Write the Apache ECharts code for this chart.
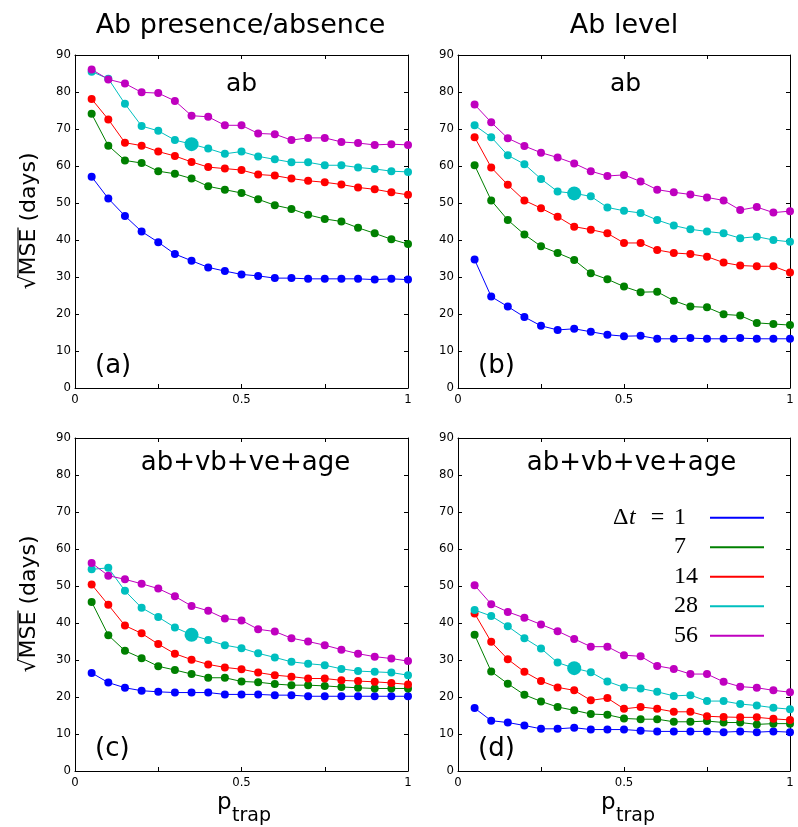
<!DOCTYPE html>
<html>
<head>
<meta charset="utf-8">
<script src="https://cdn.jsdelivr.net/npm/echarts@6/dist/echarts.min.js"></script>
<style>
html,body{margin:0;padding:0;background:#fff;}
#chart{width:798px;height:827px;}
</style>
</head>
<body>
<div id="chart"></div>
<script>
// ---- data ----
const pTrap = [0.05,0.10,0.15,0.20,0.25,0.30,0.35,0.40,0.45,0.50,0.55,0.60,0.65,0.70,0.75,0.80,0.85,0.90,0.95,1.00];
const dtNames = ['1','7','14','28','56'];
const xTickLabels = ['0','0.5','1'];
const yTickLabels = ['0','10','20','30','40','50','60','70','80','90'];
const columnTitles = ['Ab presence/absence','Ab level'];
const panelTitles = ['ab','ab','ab+vb+ve+age','ab+vb+ve+age'];
const panelLetters = ['(a)','(b)','(c)','(d)'];
const highlightIndex = 6; // p = 0.35, large cyan point

const a_dt1  = [57.1,51.2,46.5,42.3,39.4,36.2,34.4,32.6,31.6,30.7,30.3,29.7,29.7,29.5,29.5,29.5,29.5,29.3,29.5,29.3];
const a_dt7  = [74.1,65.5,61.5,60.8,58.6,57.9,56.6,54.5,53.6,52.7,51.0,49.4,48.4,46.8,45.7,45.0,43.3,41.8,40.2,38.9];
const a_dt14 = [78.1,72.6,66.3,65.5,63.9,62.7,61.1,59.7,59.3,58.9,57.7,57.4,56.6,56.0,55.6,55.0,54.2,53.7,52.9,52.2];
const a_dt28 = [85.5,83.6,76.8,70.8,69.5,67.0,65.9,64.7,63.3,63.9,62.6,61.8,61.0,61.0,60.2,60.2,59.6,59.2,58.6,58.4];
const a_dt56 = [86.1,83.4,82.3,79.9,79.7,77.6,73.6,73.3,71.0,71.0,68.8,68.6,67.0,67.6,67.6,66.5,66.2,65.7,65.9,65.7];

const b_dt1  = [34.7,24.7,22.0,19.2,16.8,15.7,16.0,15.2,14.4,14.0,14.1,13.3,13.3,13.5,13.3,13.3,13.5,13.3,13.3,13.3];
const b_dt7  = [60.2,50.7,45.4,41.5,38.3,36.5,34.6,31.0,29.4,27.4,25.9,26.0,23.6,22.0,21.8,19.9,19.6,17.6,17.3,17.0];
const b_dt14 = [67.8,59.6,54.9,50.7,48.6,46.3,43.6,42.8,41.8,39.2,39.2,37.3,36.5,36.2,35.5,33.9,33.1,32.9,32.9,31.2];
const b_dt28 = [71.0,67.8,62.9,60.5,56.5,53.1,52.6,51.8,48.8,47.9,47.3,45.4,43.9,42.9,42.3,41.8,40.5,40.9,40.0,39.5];
const b_dt56 = [76.6,71.8,67.5,65.4,63.6,62.3,60.7,58.6,57.3,57.6,55.8,53.6,52.9,52.3,51.5,50.7,48.1,48.9,47.4,47.8];

const c_dt1  = [26.5,23.9,22.5,21.7,21.4,21.2,21.2,21.2,20.7,20.7,20.7,20.5,20.5,20.2,20.2,20.2,20.2,20.2,20.2,20.2];
const c_dt7  = [45.7,36.7,32.5,30.5,28.3,27.3,26.2,25.2,25.2,24.2,24.0,23.5,23.2,23.2,23.0,22.7,22.5,22.3,22.3,22.3];
const c_dt14 = [50.4,44.9,39.3,37.2,34.3,31.7,30.1,28.8,28.0,27.5,26.6,25.9,25.5,25.0,25.0,24.5,24.3,24.1,23.8,23.4];
const c_dt28 = [54.5,54.9,48.7,44.1,41.6,38.8,36.8,35.4,34.0,33.2,31.8,30.7,29.5,29.0,28.6,27.6,27.0,26.8,26.6,25.9];
const c_dt56 = [56.2,52.8,51.8,50.6,49.3,47.2,44.6,43.3,41.2,40.7,38.3,37.7,35.9,35.0,34.0,32.8,31.7,30.9,30.4,29.7];

const d_dt1  = [17.0,13.6,13.1,12.3,11.4,11.4,11.7,11.2,11.2,11.2,10.9,10.7,10.7,10.7,10.7,10.5,10.7,10.5,10.7,10.5];
const d_dt7  = [36.8,26.9,23.6,20.6,18.8,17.3,16.4,15.4,15.2,14.2,14.0,14.0,13.3,13.3,13.5,13.1,13.1,12.6,12.8,12.8];
const d_dt14 = [42.6,34.9,30.2,26.8,24.3,22.6,21.8,19.1,19.7,16.8,17.3,16.8,16.0,16.0,14.8,14.6,14.5,14.5,14.1,13.8];
const d_dt28 = [43.5,41.9,39.1,35.9,33.1,29.3,27.8,26.7,24.2,22.6,22.3,21.4,20.3,20.5,18.9,18.9,18.1,17.7,17.1,16.7];
const d_dt56 = [50.2,45.1,43.0,41.4,39.6,37.8,35.7,33.6,33.6,31.3,31.0,28.4,27.6,26.2,26.2,24.1,22.8,22.5,21.8,21.3];

const panels = [
  [a_dt1,a_dt7,a_dt14,a_dt28,a_dt56],
  [b_dt1,b_dt7,b_dt14,b_dt28,b_dt56],
  [c_dt1,c_dt7,c_dt14,c_dt28,c_dt56],
  [d_dt1,d_dt7,d_dt14,d_dt28,d_dt56]
];

// ---- styling / layout ----
const colors = ['#0000ff','#008000','#ff0000','#00bfbf','#bf00bf'];
const grids = [
  {left:75, top:55, width:333, height:333},
  {left:458, top:55, width:332, height:333},
  {left:75, top:438, width:333, height:333},
  {left:458, top:438, width:332, height:333}
];
const tickFont = "'Liberation Sans Narrow','DejaVu Sans Condensed','Liberation Sans',sans-serif";
const sansFont = "'DejaVu Sans',sans-serif";
const serifFont = "'Liberation Serif','DejaVu Serif',serif";

const xAxes = [], yAxes = [], series = [];
grids.forEach((g, gi) => {
  const common = {gridIndex: gi, type:'value', min:0, axisLine:{show:true, onZero:false, lineStyle:{color:'#000', width:1}},
    axisTick:{show:true, inside:true, length:4, lineStyle:{color:'#000'}}, splitLine:{show:false}};
  xAxes.push(Object.assign({}, common, {position:'bottom', max:1, interval:0.25,
    axisLabel:{show:true, color:'#000', fontFamily:tickFont, fontSize:13, margin:5,
      formatter: v => { const s = String(+v.toFixed(2)); return xTickLabels.indexOf(s) >= 0 ? s : ''; }}}));
  xAxes.push(Object.assign({}, common, {position:'top', max:1, interval:0.25, axisLabel:{show:false}}));
  yAxes.push(Object.assign({}, common, {position:'left', max:90, interval:10,
    axisLabel:{show:true, color:'#000', fontFamily:tickFont, fontSize:13, margin:4,
      formatter: v => yTickLabels[Math.round(v/10)]}}));
  yAxes.push(Object.assign({}, common, {position:'right', max:90, interval:10, axisLabel:{show:false}}));

  panels[gi].forEach((vals, si) => {
    series.push({
      name: dtNames[si], type:'line', xAxisIndex: 2*gi, yAxisIndex: 2*gi,
      symbol:'circle', symbolSize:8, showSymbol:true,
      lineStyle:{width:1, color:colors[si]}, itemStyle:{color:colors[si]},
      emphasis:{disabled:true},
      data: vals.map((v, i) => (si === 3 && i === highlightIndex) ? {value:[pTrap[i], v], symbolSize:14} : [pTrap[i], v])
    });
  });
});

// measure text
const ctx = document.createElement('canvas').getContext('2d');
const ylFont = 22;
ctx.font = ylFont + "px 'DejaVu Sans'";
const wRad = ctx.measureText('√').width;
const wMSE = ctx.measureText('MSE').width;
const wAll = ctx.measureText('√MSE (days)').width;
ctx.font = "24px 'Liberation Serif'";
const numCol = 31;
const rightPad = n => Math.max(1, numCol - ctx.measureText(n).width);

function yLabel(cx, cy) {
  const x0 = -wAll/2;
  return {
    type:'group', x:cx, y:cy, rotation:Math.PI/2,
    children:[
      {type:'text', x:x0, y:0, style:{text:'√MSE (days)', font: ylFont + "px 'DejaVu Sans'", fill:'#000', align:'left', verticalAlign:'middle'}},
      {type:'line', shape:{x1:x0 + wRad - 1, y1:-11, x2:x0 + wRad + wMSE + 1, y2:-11}, style:{stroke:'#000', lineWidth:1.2}}
    ]
  };
}
function txt(x, y, s, size, family, align) {
  return {type:'text', x:x, y:y, style:{text:s, font: size + 'px ' + family, fill:'#000', align:align || 'center', verticalAlign:'middle'}};
}

const graphic = [
  txt(240.5, 26, columnTitles[0], 27, sansFont),
  txt(624, 26, columnTitles[1], 27, sansFont),
  txt(241.5, 84, panelTitles[0], 25, sansFont),
  txt(625.5, 84, panelTitles[1], 25, sansFont),
  txt(245.5, 463, panelTitles[2], 26, sansFont),
  txt(631.5, 463, panelTitles[3], 26, sansFont),
  txt(95, 366, panelLetters[0], 26, sansFont, 'left'),
  txt(478, 366, panelLetters[1], 26, sansFont, 'left'),
  txt(95, 749, panelLetters[2], 26, sansFont, 'left'),
  txt(478, 749, panelLetters[3], 26, sansFont, 'left'),
  yLabel(29, 221),
  yLabel(29, 604),
  // x labels p_trap
  txt(217, 803, 'p', 23, sansFont, 'left'),
  txt(232, 816, 'trap', 19, sansFont, 'left'),
  txt(601, 803, 'p', 23, sansFont, 'left'),
  txt(616, 816, 'trap', 19, sansFont, 'left')
];

const chart = echarts.init(document.getElementById('chart'), null, {renderer:'canvas'});
chart.setOption({
  animation:false,
  backgroundColor:'#fff',
  grid: grids,
  xAxis: xAxes,
  yAxis: yAxes,
  series: series,
  legend: {
    data: dtNames, orient:'vertical', left:613, top:505.7, padding:0,
    align:'right', icon:'rect', itemWidth:54, itemHeight:2, itemGap:5.5,
    selectedMode:false,
    formatter: n => (n === dtNames[0] ? '{d|Δ}{t|t}{e|=}' : '{pad|}') + '{b|' + n + '}{rp|}',
    textStyle:{
      fontFamily:serifFont, fontSize:24, color:'#000',
      rich:{
        d:{fontFamily:serifFont, fontSize:24, width:16, lineHeight:20, align:'left'},
        t:{fontFamily:serifFont, fontSize:24, fontStyle:'italic', width:12, lineHeight:20, align:'left'},
        e:{fontFamily:serifFont, fontSize:24, width:33, lineHeight:20, align:'center'},
        pad:{width:61, lineHeight:20},
        b:{fontFamily:serifFont, fontSize:24, lineHeight:20},
        rp:{width:0, lineHeight:20}
      }
    }
  },
  graphic: graphic
});
// set per-item right padding so the numbers are left aligned
const richRp = {};
dtNames.forEach(n => { richRp['rp' + n] = {width: rightPad(n), lineHeight:20}; });
chart.setOption({
  legend: {
    formatter: n => (n === dtNames[0] ? '{d|Δ}{t|t}{e|=}' : '{pad|}') + '{b|' + n + '}{rp' + n + '|}',
    textStyle: {rich: richRp}
  }
});
</script>
</body>
</html>
